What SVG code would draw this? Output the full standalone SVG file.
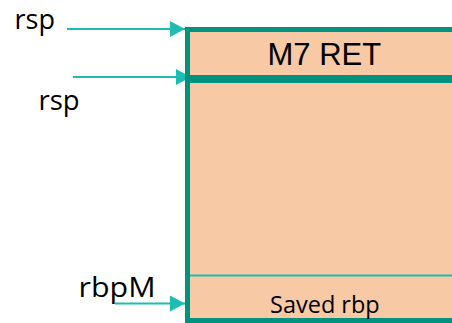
<svg xmlns="http://www.w3.org/2000/svg" width="452" height="323" viewBox="0 0 452 323">
<style>
.lbl{font-family:"Open Sans","DejaVu Sans",sans-serif;fill:#000}
.ttl{font-family:"Liberation Sans",Arial,sans-serif;fill:#000}
.cell{fill:#F8C9A5;stroke:#00917F}
.conn{stroke:#1DBDB2;stroke-width:2;fill:none}
</style>
<defs>
<marker id="ah" markerUnits="userSpaceOnUse" markerWidth="15" markerHeight="16" refX="15" refY="8" orient="auto">
<path d="M0,0 L15,8 L0,16 Z" fill="#1DBDB2"/>
</marker>
</defs>
<g id="connectors">
<line class="conn" x1="67" y1="29" x2="185" y2="29" marker-end="url(#ah)"/>
<line class="conn" x1="73" y1="77" x2="191" y2="77" marker-end="url(#ah)"/>
<line class="conn" x1="115" y1="303.5" x2="185" y2="303.5" marker-end="url(#ah)"/>
</g>
<g id="stack-body">
<rect class="cell" x="187.5" y="79" width="280" height="241.5" stroke-width="5"/>
</g>
<g id="slot-ret">
<rect class="cell" x="187.5" y="29.5" width="280" height="49.5" stroke-width="5"/>
<line x1="187.5" y1="79" x2="460" y2="79" stroke="#00917F" stroke-width="8"/>
<text class="ttl" x="267.5" y="65" font-size="31">M7 RET</text>
</g>
<g id="slot-saved-rbp">
<line x1="190" y1="275.5" x2="460" y2="275.5" stroke="#1DBDB2" stroke-width="2"/>
<text class="lbl" x="270" y="312.5" font-size="23.5">Saved rbp</text>
</g>
<g id="label-rsp-top">
<text class="lbl" x="14.5" y="29" font-size="27">rsp</text>
</g>
<g id="label-rsp">
<text class="lbl" x="38.5" y="109.5" font-size="27.5">rsp</text>
</g>
<g id="label-rbpM">
<text class="lbl" x="78.5" y="296.5" font-size="28" textLength="77" lengthAdjust="spacingAndGlyphs">rbpM</text>
</g>
</svg>
